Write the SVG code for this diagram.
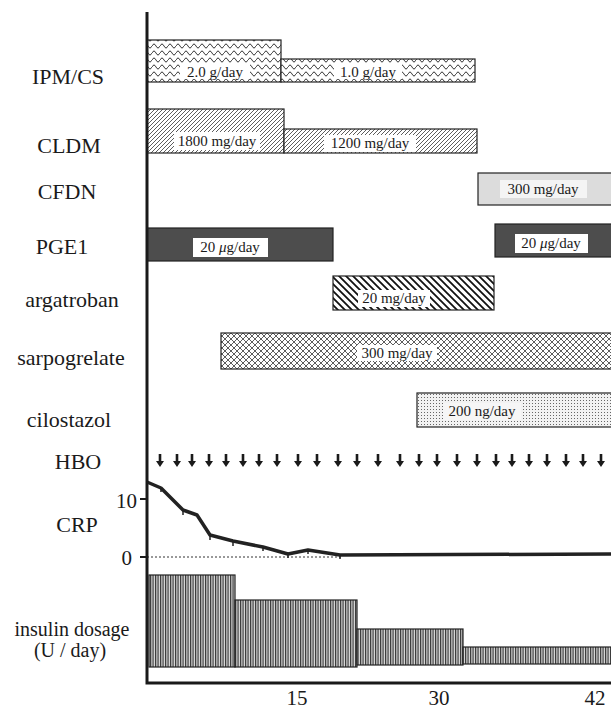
<svg xmlns="http://www.w3.org/2000/svg" width="611" height="709" viewBox="0 0 611 709">
<style>
.lbl{font-family:"Liberation Serif","DejaVu Serif","Times New Roman",serif;font-size:22px;fill:#1a1a1a;text-anchor:middle}
.num{font-family:"Liberation Serif","DejaVu Serif","Times New Roman",serif;font-size:21px;fill:#1a1a1a}
.in{font-family:"Liberation Serif","DejaVu Serif","Times New Roman",serif;font-size:15px;fill:#1a1a1a;text-anchor:middle}
.bar{stroke:#222;stroke-width:1.2}
.wb{fill:#fff}
.ax{stroke:#1a1a1a;stroke-width:3;fill:none}
</style>
<defs>
<pattern id="wave" width="8" height="7" patternUnits="userSpaceOnUse">
<rect width="8" height="7" fill="#fff"/>
<path d="M0 4 Q2 0 4 4 T8 4" fill="none" stroke="#222" stroke-width="0.9"/>
</pattern>
<pattern id="diag" width="4" height="4" patternUnits="userSpaceOnUse">
<rect width="4" height="4" fill="#fff"/>
<path d="M-1 1 L1 -1 M0 4 L4 0 M3 5 L5 3" stroke="#333" stroke-width="0.8"/>
</pattern>
<pattern id="back" width="7" height="7" patternUnits="userSpaceOnUse">
<rect width="7" height="7" fill="#fff"/>
<path d="M-1 -1 L8 8 M-1 6 L1 8 M6 -1 L8 1" stroke="#111" stroke-width="1.8"/>
</pattern>
<pattern id="cross" width="6" height="6" patternUnits="userSpaceOnUse">
<rect width="6" height="6" fill="#fff"/>
<path d="M0 0 L6 6 M6 0 L0 6" stroke="#333" stroke-width="0.8"/>
</pattern>
<pattern id="dots" width="3" height="3" patternUnits="userSpaceOnUse">
<rect width="3" height="3" fill="#f2f2f2"/>
<rect x="1" y="1" width="1" height="1" fill="#666"/>
</pattern>
<pattern id="vert" width="2.5" height="3" patternUnits="userSpaceOnUse">
<rect width="2.5" height="3" fill="#ddd"/>
<rect x="0" width="1.2" height="3" fill="#333"/>
</pattern>
<path id="arr" d="M-1.3 0 H1.3 V7 H4 L0 13 L-4 7 H-1.3 Z" fill="#1a1a1a"/>
</defs>

<g id="labels">
<text class="lbl" x="68" y="84">IPM/CS</text>
<text class="lbl" x="69" y="153">CLDM</text>
<text class="lbl" x="67" y="199">CFDN</text>
<text class="lbl" x="62" y="254">PGE1</text>
<text class="lbl" x="72" y="307">argatroban</text>
<text class="lbl" x="71" y="365">sarpogrelate</text>
<text class="lbl" x="69" y="427">cilostazol</text>
<text class="lbl" x="78" y="469">HBO</text>
<text class="lbl" x="77" y="532">CRP</text>
<text class="lbl" x="72" y="636" style="font-size:20px">insulin dosage</text>
<text class="lbl" x="70" y="657" style="font-size:20px">(U / day)</text>
<text class="num" x="137" y="508" text-anchor="end">10</text>
<text class="num" x="132" y="565" text-anchor="end">0</text>
<text class="num" x="297" y="705" text-anchor="middle">15</text>
<text class="num" x="439" y="705" text-anchor="middle">30</text>
<text class="num" x="595" y="705" text-anchor="middle">42</text>
</g>

<g id="ipmcs">
<rect class="bar" x="147" y="40" width="134" height="42" fill="url(#wave)"/>
<rect class="bar" x="281" y="59" width="194" height="23" fill="url(#wave)"/>
<rect class="wb" x="180" y="63" width="70" height="16"/>
<text class="in" x="215" y="77">2.0 g/day</text>
<rect class="wb" x="334" y="63" width="68" height="16"/>
<text class="in" x="368" y="77">1.0 g/day</text>
</g>

<g id="cldm">
<rect class="bar" x="147" y="109" width="137" height="44" fill="url(#diag)"/>
<rect class="bar" x="284" y="129" width="193" height="24" fill="url(#diag)"/>
<rect class="wb" x="174" y="132" width="86" height="18"/>
<text class="in" x="217" y="146">1800 mg/day</text>
<rect class="wb" x="324" y="135" width="92" height="17"/>
<text class="in" x="370" y="148">1200 mg/day</text>
</g>

<g id="cfdn">
<rect class="bar" x="478" y="173" width="140" height="32" fill="#dcdcdc"/>
<rect x="500" y="180" width="87" height="18" fill="#f4f4f4"/>
<text class="in" x="543" y="194">300 mg/day</text>
</g>

<g id="pge1">
<rect class="bar" x="147" y="228" width="186" height="33" fill="#4d4d4d"/>
<rect class="wb" x="193" y="238" width="75" height="19"/>
<text class="in" x="230" y="252">20 <tspan font-style="italic">μ</tspan>g/day</text>
<rect class="bar" x="495" y="224" width="123" height="33" fill="#4d4d4d"/>
<rect class="wb" x="515" y="234" width="73" height="19"/>
<text class="in" x="551" y="248">20 <tspan font-style="italic">μ</tspan>g/day</text>
</g>

<g id="argatroban">
<rect class="bar" x="333" y="276" width="161" height="34" fill="url(#back)"/>
<rect class="wb" x="358" y="290" width="72" height="17"/>
<text class="in" x="394" y="303">20 mg/day</text>
</g>

<g id="sarpogrelate">
<rect class="bar" x="221" y="333" width="397" height="36" fill="url(#cross)"/>
<rect class="wb" x="357" y="345" width="80" height="16"/>
<text class="in" x="397" y="358">300 mg/day</text>
</g>

<g id="cilostazol">
<rect class="bar" x="417" y="393" width="201" height="34" fill="url(#dots)"/>
<rect x="443" y="403" width="78" height="17" fill="#f6f6f6"/>
<text class="in" x="482" y="416">200 ng/day</text>
</g>

<g id="hbo">
<use href="#arr" x="160" y="454"/><use href="#arr" x="177" y="454"/><use href="#arr" x="192" y="454"/>
<use href="#arr" x="209" y="454"/><use href="#arr" x="226" y="454"/><use href="#arr" x="243" y="454"/>
<use href="#arr" x="259" y="454"/><use href="#arr" x="277" y="454"/><use href="#arr" x="298" y="454"/>
<use href="#arr" x="317" y="454"/><use href="#arr" x="338" y="454"/><use href="#arr" x="357" y="454"/>
<use href="#arr" x="378" y="454"/><use href="#arr" x="400" y="454"/><use href="#arr" x="419" y="454"/>
<use href="#arr" x="437" y="454"/><use href="#arr" x="457" y="454"/><use href="#arr" x="477" y="454"/>
<use href="#arr" x="496" y="454"/><use href="#arr" x="512" y="454"/><use href="#arr" x="529" y="454"/>
<use href="#arr" x="547" y="454"/><use href="#arr" x="566" y="454"/><use href="#arr" x="583" y="454"/>
<use href="#arr" x="601" y="454"/>
</g>

<g id="crp">
<line x1="147" y1="557" x2="342" y2="557" stroke="#333" stroke-width="1" stroke-dasharray="2,2"/>
<polyline points="147,482 161,488 183,510 197,515 210,535 233,541 263,547 288,554 308,550 340,555 611,554" fill="none" stroke="#222" stroke-width="3.5" stroke-linejoin="round"/>
<path d="M161 488 v4 M183 510 v5 M210 535 v5 M233 541 v5 M263 547 v4 M288 554 v4 M308 550 v4 M340 555 v4" stroke="#222" stroke-width="1.5"/>
</g>

<g id="insulin">
<rect class="bar" x="149" y="575" width="86" height="92" fill="url(#vert)"/>
<rect class="bar" x="235" y="600" width="122" height="67" fill="url(#vert)"/>
<rect class="bar" x="357" y="629" width="106" height="36" fill="url(#vert)"/>
<rect class="bar" x="463" y="647" width="155" height="17" fill="url(#vert)"/>
</g>

<g id="connectors">
<path class="ax" d="M147 12 V683 H611"/>
<path d="M140 499 H147 M140 557 H147" stroke="#1a1a1a" stroke-width="2"/>
</g>
</svg>
